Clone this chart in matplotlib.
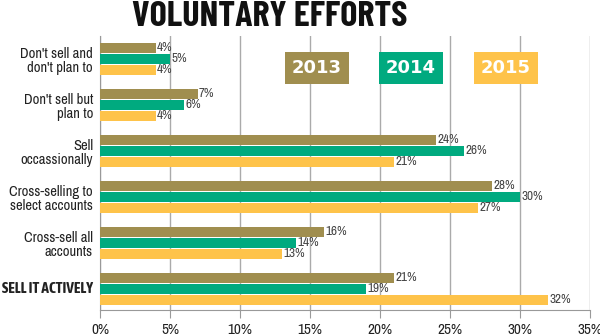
import matplotlib.pyplot as plt
import numpy as np

categories = ["Don't sell and\ndon't plan to", "Don't sell but\nplan to", "Sell\noccassionally",
              "Cross-selling to\nselect accounts", "Cross-sell all\naccounts", "SELL IT ACTIVELY"]
years = ["2013", "2014", "2015"]
v2013 = [4, 7, 24, 28, 16, 21]
v2014 = [5, 6, 26, 30, 14, 19]
v2015 = [4, 4, 21, 27, 13, 32]
xticks = [0, 5, 10, 15, 20, 25, 30, 35]

colors = ["#a08e4f", "#00aa7f", "#fec34a"]
narrow = ["Archivo Narrow", "DejaVu Sans"]
bold_narrow = ["Asap Condensed", "DejaVu Sans"]
title_font = ["Barlow Condensed", "DejaVu Sans"]

fig = plt.figure(figsize=(6, 3.36), dpi=100)
ax = fig.add_axes([100 / 600, 1 - 310 / 336, 490 / 600, 274 / 336])

y = np.arange(len(categories))
offsets = [-0.239, 0, 0.239]
for vals, off, c in zip([v2013, v2014, v2015], offsets, colors):
    ax.barh(y + off, vals, height=0.22, color=c, zorder=3)
    for yi, v in zip(y, vals):
        ax.text(v + 0.08, yi + off, f"{v}%", va="center", ha="left", fontsize=9.5,
                color="#444444", family=narrow, zorder=4)

ax.set_xlim(0, 35)
ax.set_ylim(5.46, -0.5)
ax.set_xticks(xticks)
ax.set_xticklabels([f"{t}%" for t in xticks], family=narrow, fontsize=11, color="#222222")
ax.set_yticks([])
ax.grid(axis="x", color="#aaaaaa", linewidth=1, zorder=0)
for s in ["top", "right"]:
    ax.spines[s].set_visible(False)
ax.spines["left"].set_color("#999999")
ax.spines["bottom"].set_color("#999999")
ax.tick_params(axis="x", length=6, color="#999999", pad=3)

for yi, cat in zip(y, categories):
    if cat.isupper():
        ax.text(-0.5, yi, cat, ha="right", va="center", fontsize=11, color="#222222",
                fontweight="bold", family=bold_narrow)
    else:
        ax.text(-0.5, yi + 0.05, cat, ha="right", va="center", multialignment="right",
                fontsize=10.5, color="#222222", family=narrow, linespacing=1.0)

# legend boxes
box_x = [282, 376, 471]
for bx, yr, c in zip(box_x, years, colors):
    fig.text((bx + 35) / 600, 1 - 68 / 336, yr, ha="center", va="center", fontsize=13,
             fontweight="bold", color="white", family="DejaVu Sans",
             bbox=dict(boxstyle="square,pad=0.4", facecolor=c, edgecolor="none"))

fig.text(270 / 600, 1 - 17 / 336, "VOLUNTARY EFFORTS", ha="center", va="center",
         fontsize=26, fontweight="bold", family=title_font, color="#111111")

fig.savefig("out.png", dpi=100)
